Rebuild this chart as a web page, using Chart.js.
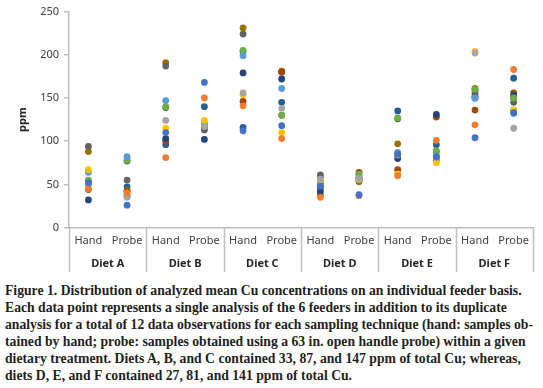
<!DOCTYPE html>
<html>
<head>
<meta charset="utf-8">
<script src="https://cdn.jsdelivr.net/npm/chart.js@4"></script>
<style>
  body { margin: 0; background: #fff; }
  #wrap { position: relative; width: 543px; height: 274px; }
  #caption {
    position: absolute; left: 5px; top: 282px;
    font-family: "Liberation Serif", serif; font-weight: bold;
    font-size: 13.7px; line-height: 17px; color: #231f20;
    white-space: nowrap;
  }
</style>
</head>
<body>
<div id="wrap"><canvas id="myChart"></canvas></div>
<div id="caption">
Figure 1. Distribution of analyzed mean Cu concentrations on an individual feeder basis.<br>
Each data point represents a single analysis of the 6 feeders in addition to its duplicate<br>
analysis for a total of 12 data observations for each sampling technique (hand: samples ob-<br>
tained by hand; probe: samples obtained using a 63 in. open handle probe) within a given<br>
dietary treatment. Diets A, B, and C contained 33, 87, and 147 ppm of total Cu; whereas,<br>
diets D, E, and F contained 27, 81, and 141 ppm of total Cu.
</div>
<script>
const methods = ['Hand', 'Probe', 'Hand', 'Probe', 'Hand', 'Probe', 'Hand', 'Probe', 'Hand', 'Probe', 'Hand', 'Probe']
const diets = ['Diet A', 'Diet B', 'Diet C', 'Diet D', 'Diet E', 'Diet F']
const yTicks = [0, 50, 100, 150, 200, 250]

// one array per observation (6 feeders + duplicates), values per Hand/Probe column
const obs1 = [52, 26, 110, 168, 112, 118, 48, 38, 85, 82, 104, 133]
const obs2 = [45, 40, 81, 150, 141, 103, 35, 37, 60, 101, 119, 183]
const obs3 = [50, 35, 124, 117, 156, 138, 56, 57, 84, 81, 202, 115]
const obs4 = [67, 40, 115, 124, 154, 110, 55, 56, 62, 75, 204, 136]
const obs5 = [64, 82, 147, 121, 199, 161, 50, 55, 87, 83, 150, 132]
const obs6 = [55, 78, 140, 118, 205, 130, 52, 62, 127, 89, 160, 150]
const obs7 = [32, 37, 103, 102, 179, 172, 42, 55, 80, 131, 150, 153]
const obs8 = [44, 42, 100, 118, 146, 180, 38, 64, 67, 128, 136, 156]
const obs9 = [94, 55, 187, 113, 224, 180, 61, 58, 84, 81, 155, 145]
const obs10 = [88, 43, 191, 116, 231, 181, 58, 53, 97, 78, 161, 136]
const obs11 = [51, 47, 96, 140, 116, 145, 46, 57, 135, 96, 152, 173]
const obs12 = [54, 77, 139, 119, 204, 130, 52, 61, 126, 88, 159, 150]

const series = [obs1, obs2, obs3, obs4, obs5, obs6, obs7, obs8, obs9, obs10, obs11, obs12]
const colors = ['#4472C4', '#ED7D31', '#A5A5A5', '#FFC000', '#5B9BD5', '#70AD47',
  '#264478', '#9E480E', '#636363', '#997300', '#255E91', '#43682B']

const axisColor = '#bfbfbf'
const labelFont = { family: 'Noto Sans', size: 11 }

// vertical separators between the diet groups
const separators = {
  id: 'separators',
  afterDraw (chart) {
    const x = chart.scales.x
    const x2 = chart.scales.x2
    const c = chart.ctx
    const edges = [x.left]
    for (let i = 1; i < diets.length; i++) {
      edges.push((x.getPixelForValue(2 * i - 1) + x.getPixelForValue(2 * i)) / 2)
    }
    edges.push(x.right)
    c.save()
    c.strokeStyle = axisColor
    c.lineWidth = 1.5
    edges.forEach(px => {
      c.beginPath()
      c.moveTo(Math.round(px) + 0.5, x.top)
      c.lineTo(Math.round(px) + 0.5, x2.bottom)
      c.stroke()
    })
    c.restore()
  }
}

new Chart(document.getElementById('myChart'), {
  type: 'line',
  data: {
    labels: methods,
    datasets: series.map((d, i) => ({
      data: d,
      showLine: false,
      pointRadius: 3.4,
      pointBorderWidth: 0,
      pointBackgroundColor: colors[i],
      borderColor: colors[i]
    }))
  },
  options: {
    responsive: true,
    maintainAspectRatio: false,
    animation: false,
    layout: { padding: { top: 0, right: 10, left: 12, bottom: 2 } },
    plugins: { legend: { display: false }, tooltip: { enabled: false } },
    scales: {
      x: {
        type: 'category',
        offset: true,
        grid: { display: false, drawTicks: false, tickLength: 0 },
        border: { color: axisColor, width: 1.5 },
        ticks: { font: labelFont, color: '#404040', padding: 7, maxRotation: 0, autoSkip: false }
      },
      x2: {
        type: 'category',
        labels: diets,
        position: 'bottom',
        offset: true,
        grid: { display: false, drawTicks: false, tickLength: 0 },
        border: { display: false },
        ticks: { font: { family: 'Noto Sans', size: 11, weight: 'bold' }, color: '#262626', padding: 2 }
      },
      y: {
        min: 0,
        max: 250,
        afterBuildTicks: axis => { axis.ticks = yTicks.map(v => ({ value: v })) },
        grid: { drawOnChartArea: false, color: axisColor, tickLength: 5, lineWidth: 1.5 },
        border: { color: axisColor, width: 1.5 },
        ticks: { font: labelFont, color: '#404040', padding: 5 },
        title: { display: true, text: 'ppm', font: { family: 'Noto Sans', size: 11, weight: 'bold' }, color: '#262626', padding: { bottom: 6 } }
      }
    }
  },
  plugins: [separators]
})
</script>
</body>
</html>
